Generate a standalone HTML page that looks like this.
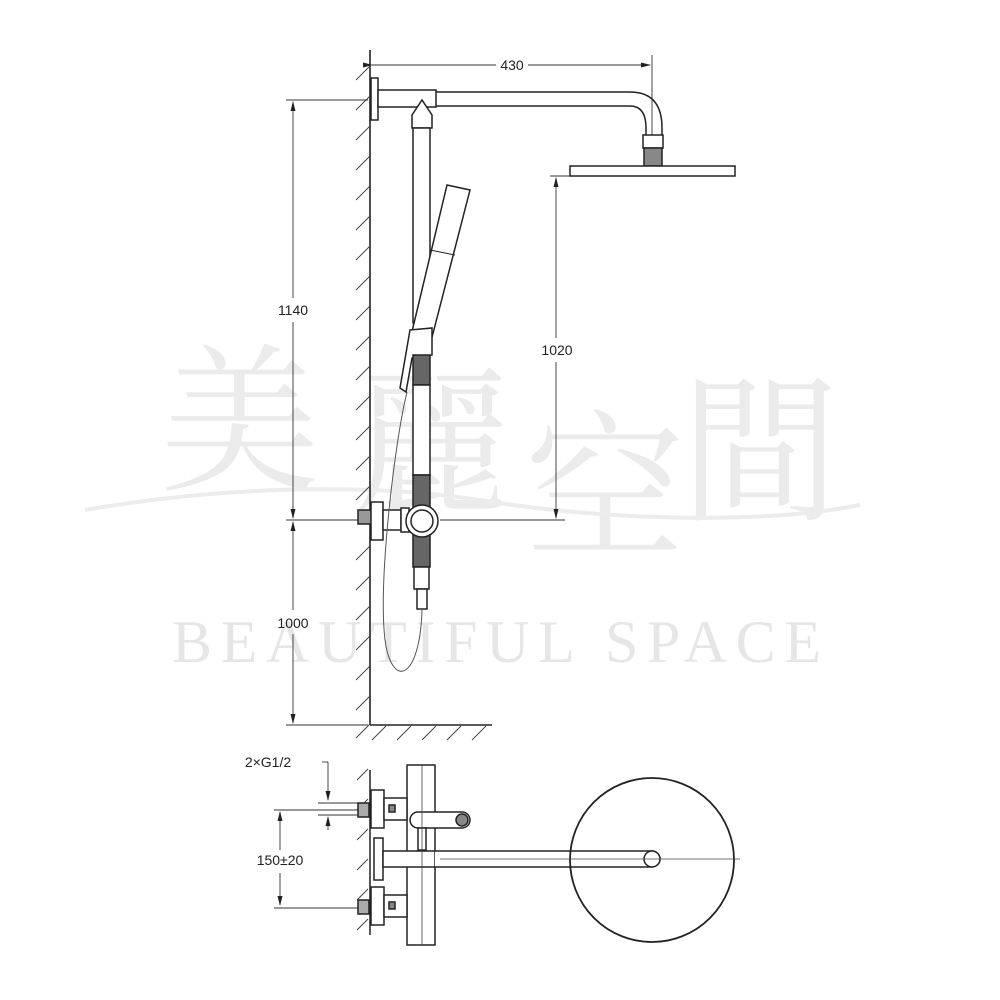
<!DOCTYPE html>
<html><head><meta charset="utf-8"><style>html,body{margin:0;padding:0;background:#fff}svg{display:block}</style></head>
<body>
<svg width="1000" height="1000" viewBox="0 0 1000 1000" xmlns="http://www.w3.org/2000/svg">
<defs>
<marker id="ar" markerWidth="10" markerHeight="8" refX="9" refY="4" orient="auto" markerUnits="userSpaceOnUse"><path d="M0,1.5 L10,4 L0,6.5 Z" fill="#222"/></marker>
</defs>
<!-- watermark -->
<g fill="#ebebeb" font-family="'Noto Serif CJK SC','Liberation Serif',serif" font-size="160">
<text x="160" y="478">美</text>
<text x="352" y="500">麗</text>
<text x="525" y="545">空</text>
<text x="680" y="508">間</text>
</g>
<path d="M85,510 C200,490 350,480 480,500 C600,520 760,525 860,505" stroke="#ececec" stroke-width="4" fill="none"/>
<text x="172" y="662" fill="#e6e6e6" font-family="'Liberation Serif',serif" font-size="60" letter-spacing="6" textLength="655">BEAUTIFUL SPACE</text>

<g stroke="#222" fill="none" stroke-width="1.6">
<!-- wall -->
<line x1="370" y1="50" x2="370" y2="725"/>
<line x1="370" y1="725" x2="492" y2="725"/>
</g>
<g stroke="#444" stroke-width="1">
<path d="M356,80l14,-14M356,110l14,-14M356,140l14,-14M356,170l14,-14M356,200l14,-14M356,230l14,-14M356,260l14,-14M356,290l14,-14M356,320l14,-14M356,350l14,-14M356,380l14,-14M356,410l14,-14M356,440l14,-14M356,470l14,-14M356,500l14,-14M356,560l14,-14M356,590l14,-14M356,620l14,-14M356,650l14,-14M356,680l14,-14M356,710l14,-14M356,738l14,-14"/>
<path d="M372,740l14,-14M397,740l14,-14M422,740l14,-14M447,740l14,-14M472,740l14,-14"/>
</g>
<!-- dimension lines -->
<g stroke="#333" stroke-width="0.9" fill="none">
<line x1="372" y1="65" x2="496" y2="65" marker-start="url(#ar)" transform=""/>
<line x1="528" y1="65" x2="650" y2="65" marker-end="url(#ar)"/>
<line x1="652" y1="55" x2="652" y2="140"/>
<line x1="286" y1="100" x2="368" y2="100"/>
<line x1="293" y1="298" x2="293" y2="102" marker-end="url(#ar)"/>
<line x1="293" y1="322" x2="293" y2="518" />
<line x1="286" y1="520" x2="362" y2="520"/>
<line x1="440" y1="520" x2="565" y2="520"/>
<line x1="293" y1="505" x2="293" y2="518" marker-end="url(#ar)"/>
<line x1="293" y1="535" x2="293" y2="522" marker-end="url(#ar)"/>
<line x1="293" y1="535" x2="293" y2="610"/>
<line x1="293" y1="634" x2="293" y2="723" marker-end="url(#ar)"/>
<line x1="286" y1="725" x2="368" y2="725"/>
<line x1="550" y1="176" x2="572" y2="176"/>
<line x1="556" y1="338" x2="556" y2="178" marker-end="url(#ar)"/>
<line x1="556" y1="362" x2="556" y2="518" marker-end="url(#ar)"/>
</g>
<g font-family="'Liberation Sans',sans-serif" font-size="14" fill="#222" text-anchor="middle">
<text x="512" y="70">430</text>
<text x="293" y="315">1140</text>
<text x="293" y="628">1000</text>
<text x="557" y="355">1020</text>
<text x="268" y="767">2×G1/2</text>
<text x="280" y="865">150±20</text>
</g>
<!-- shower arm -->
<g stroke="#222" stroke-width="1.5" fill="#fff">
<rect x="371" y="78" width="7" height="42"/>
<rect x="378" y="90" width="58" height="17"/>
<path d="M436,92 L630,92 Q662,92 662,128 L662,135 M436,106 L630,106 Q646,106 646,128 L646,135" fill="none"/>
<rect x="643" y="135" width="20" height="13"/>
<rect x="644" y="148" width="18" height="18" fill="#888"/>
<rect x="570" y="166" width="165" height="10"/>
<!-- pole -->
<path d="M412,115 L422,100 L432,115 L432,128 L412,128 Z"/>
<rect x="413" y="128" width="17" height="195"/>
<!-- hand shower -->
<path d="M447,185 L470,190 L430,345 L410,340 Z"/>
<line x1="430" y1="250" x2="455" y2="255" stroke-width="1"/>
<path d="M410,330 L432,328 L432,355 L412,358 L406,392 L400,388 Z"/>
<rect x="413" y="355" width="17" height="30" fill="#666"/>
<rect x="413" y="385" width="17" height="90"/>
<rect x="413" y="475" width="17" height="33" fill="#666"/>
<rect x="358" y="510" width="14" height="14" fill="#999"/>
<rect x="371" y="502" width="12" height="38"/>
<rect x="383" y="510" width="18" height="20"/>
<rect x="401" y="508" width="8" height="24"/>
<rect x="413" y="535" width="17" height="32" fill="#666"/>
<circle cx="422" cy="521" r="16"/>
<circle cx="422" cy="521" r="11"/>
<rect x="414" y="567" width="15" height="22"/>
<rect x="417" y="589" width="10" height="20"/>
</g>
<path d="M407,392 C395,440 378,580 385,640 C392,690 420,680 422,610" stroke="#555" stroke-width="1" fill="none"/>
<!-- bottom view -->
<g stroke="#444" stroke-width="1">
<path d="M357,780l11,-11M357,810l11,-11M357,840l11,-11M357,870l11,-11M357,900l11,-11M357,930l11,-11"/>
</g>
<g stroke="#333" stroke-width="0.9" fill="none">
<line x1="322" y1="762" x2="328" y2="762"/><line x1="328" y1="762" x2="328" y2="800" marker-end="url(#ar)"/>
<line x1="318" y1="803" x2="365" y2="803"/><line x1="318" y1="815" x2="365" y2="815"/>
<line x1="328" y1="830" x2="328" y2="817" marker-end="url(#ar)"/>
<line x1="274" y1="810" x2="365" y2="810"/>
<line x1="280" y1="850" x2="280" y2="812" marker-end="url(#ar)"/>
<line x1="280" y1="873" x2="280" y2="905" marker-end="url(#ar)"/>
<line x1="274" y1="908" x2="365" y2="908"/>
</g>
<g stroke="#222" stroke-width="1.5" fill="#fff">
<line x1="370" y1="770" x2="370" y2="935"/>
<rect x="407" y="765" width="28" height="180"/>
<rect x="371" y="790" width="13" height="38"/>
<rect x="371" y="887" width="13" height="38"/>
<rect x="358" y="803" width="11" height="14" fill="#aaa"/>
<rect x="358" y="900" width="11" height="14" fill="#aaa"/>
<rect x="384" y="798" width="23" height="22"/>
<rect x="384" y="895" width="23" height="22"/>
<rect x="389" y="805" width="6" height="7" fill="#888"/>
<rect x="389" y="902" width="6" height="7" fill="#888"/>
<rect x="374" y="838" width="9" height="42"/>
<rect x="383" y="851" width="52" height="16"/>
<path d="M435,851 L652,851 A8,8 0 0 1 652,867 L435,867" />
<circle cx="652" cy="859" r="8"/>
<path d="M418,812 L462,812 A8,8 0 0 1 462,828 L418,828 A8,8 0 0 1 418,812 Z"/>
<circle cx="462" cy="820" r="6" fill="#888"/>
<rect x="418" y="828" width="8" height="22"/>
</g>
<circle cx="652" cy="860" r="82" stroke="#222" stroke-width="1.8" fill="none"/>
<line x1="422" y1="765" x2="422" y2="945" stroke="#444" stroke-width="0.8"/>
<line x1="440" y1="859" x2="740" y2="859" stroke="#444" stroke-width="0.8"/>
</svg>
</body></html>
